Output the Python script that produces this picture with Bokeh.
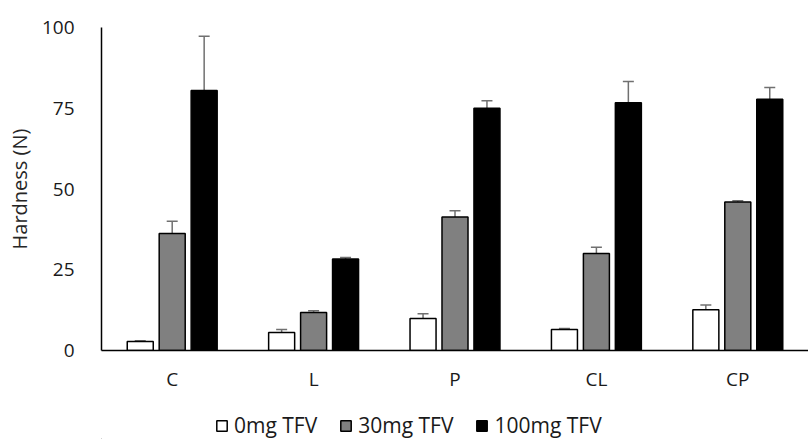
from bokeh.plotting import figure
from bokeh.models import ColumnDataSource, FactorRange, Whisker, Legend, LegendItem
from bokeh.layouts import column
from bokeh.transform import dodge
from bokeh.embed import file_html
from bokeh.resources import INLINE

categories = ["C", "L", "P", "CL", "CP"]
series = ["0mg TFV", "30mg TFV", "100mg TFV"]
v0 = [2.8, 5.6, 9.9, 6.5, 12.6]
e0 = [0.2, 0.9, 1.5, 0.3, 1.5]
v30 = [36.2, 11.8, 41.3, 30.0, 46.0]
e30 = [3.8, 0.5, 2.0, 2.0, 0.4]
v100 = [80.5, 28.3, 75.0, 76.7, 77.8]
e100 = [16.8, 0.5, 2.3, 6.6, 3.6]
yticks = [0, 25, 50, 75, 100]

fills = ["#ffffff", "#808080", "#000000"]
offsets = [-0.226, 0.0, 0.226]
vals = [v0, v30, v100]
errs = [e0, e30, e100]
FONT = "Open Sans"

p = figure(x_range=FactorRange(*categories), y_range=(0, 100),
           frame_width=707, frame_height=323,
           output_backend="svg", toolbar_location=None, min_border_left=101,
           min_border_right=0, min_border_top=27, min_border_bottom=58)
p.outline_line_color = None
p.grid.visible = False

for val, err, fill, off in zip(vals, errs, fills, offsets):
    src = ColumnDataSource(dict(cat=categories, v=val,
                                up=[a + b for a, b in zip(val, err)],
                                lo=[a - b for a, b in zip(val, err)]))
    p.vbar(x=dodge("cat", off, range=p.x_range), top="v", width=0.184, source=src,
           fill_color=fill, line_color="#000000", line_width=1.5)
    w = Whisker(base=dodge("cat", off, range=p.x_range), upper="up", lower="lo", source=src,
                line_color="#707070", line_width=1.5)
    for h in (w.upper_head, w.lower_head):
        h.size = 11
        h.line_color = "#707070"
        h.line_width = 1.5
    p.add_layout(w)

p.yaxis.ticker = yticks
p.yaxis.axis_label = "Hardness (N)"
p.yaxis.axis_label_text_font = FONT
p.yaxis.axis_label_text_font_style = "normal"
p.yaxis.axis_label_text_font_size = "20px"
p.yaxis.axis_label_text_color = "#262626"
p.yaxis.axis_label_standoff = 6
for ax in (p.xaxis, p.yaxis):
    ax.major_tick_line_color = None
    ax.minor_tick_line_color = None
    ax.major_label_text_font = FONT
    ax.major_label_text_font_size = "19px"
    ax.major_label_text_color = "#1a1a1a"
    ax.axis_line_color = "#000000"
    ax.axis_line_width = 1.5
p.yaxis.major_label_standoff = 21
p.xaxis.major_label_standoff = 9

# legend strip below the chart (legend swatches only; the sample bars sit outside the view)
lg = figure(width=808, height=31, x_range=(0, 1), y_range=(0, 1),
            output_backend="svg", toolbar_location=None, min_border=0)
lg.axis.visible = False
lg.grid.visible = False
lg.outline_line_color = None
swatch_src = ColumnDataSource(dict(x=[-5.0], top=[0.0]))
dummies = [lg.vbar(x="x", top="top", width=0.1, source=swatch_src, fill_color=f,
                   line_color="#000000", line_width=1.5)
           for f in fills]
legend = Legend(items=[LegendItem(label=s, renderers=[r]) for s, r in zip(series, dummies)],
                orientation="horizontal", location=(114, 0),
                label_text_font=FONT, label_text_font_size="21px",
                label_text_color="#1a1a1a", glyph_width=13, glyph_height=13,
                spacing=22, label_standoff=6, border_line_color=None,
                background_fill_alpha=0, padding=0, margin=0)
lg.add_layout(legend, "center")

layout = column(p, lg, spacing=0)
open("out.html", "w").write(file_html(layout, INLINE))
